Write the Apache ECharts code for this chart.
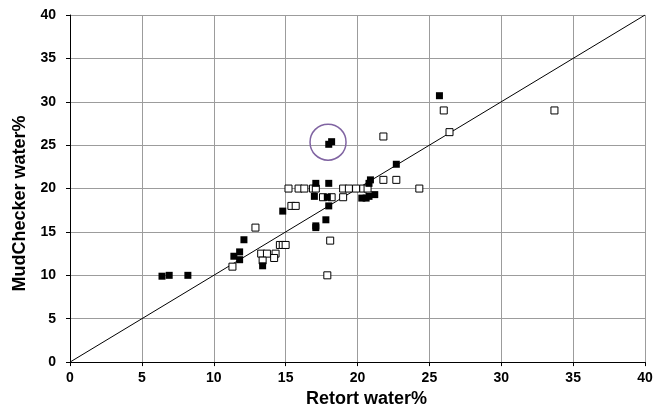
<!DOCTYPE html>
<html>
<head>
<meta charset="utf-8">
<script src="https://cdn.jsdelivr.net/npm/echarts@6/dist/echarts.min.js"></script>
<style>
html,body{margin:0;padding:0;background:#fff;}
#chart{width:665px;height:413px;}
</style>
</head>
<body>
<div id="chart"></div>
<script>
// Axis ticks
var xTicks = [0, 5, 10, 15, 20, 25, 30, 35, 40];
var yTicks = [0, 5, 10, 15, 20, 25, 30, 35, 40];
var xTitle = 'Retort water%';
var yTitle = 'MudChecker water%';

// Filled (black) squares: [retort, mudchecker]
var filledPoints = [
  [6.4, 9.9], [6.9, 10.0], [8.2, 10.0],
  [11.4, 12.2], [11.8, 12.7], [11.8, 11.8], [12.1, 14.1],
  [13.4, 11.1],
  [14.8, 17.4],
  [17.1, 20.6], [18.0, 20.6],
  [17.0, 19.1], [17.9, 19.0],
  [18.0, 18.0],
  [17.8, 16.4],
  [17.1, 15.7], [17.1, 15.5],
  [18.0, 25.1], [18.2, 25.4],
  [20.9, 21.0], [20.8, 20.6],
  [20.3, 18.9], [20.6, 18.9], [20.8, 19.1], [21.2, 19.3],
  [22.7, 22.8],
  [25.7, 30.7]
];

// Open (white) squares
var openPoints = [
  [11.3, 11.0], [12.9, 15.5],
  [13.3, 12.5], [13.7, 12.5], [14.3, 12.5], [14.2, 12.0], [13.4, 11.7],
  [14.6, 13.5], [14.8, 13.5], [15.0, 13.5],
  [15.2, 20.0], [15.9, 20.0], [16.3, 20.0], [16.9, 20.0], [17.1, 20.0],
  [19.0, 20.0], [19.4, 20.0], [19.9, 20.0], [20.4, 20.0], [20.7, 20.0],
  [15.4, 18.0], [15.7, 18.0],
  [17.6, 19.0], [18.2, 19.0], [19.0, 19.0],
  [18.1, 14.0], [17.9, 10.0],
  [21.8, 26.0], [21.8, 21.0], [22.7, 21.0], [24.3, 20.0],
  [26.0, 29.0], [26.4, 26.5], [33.7, 29.0]
];

// 1:1 reference line
var identityLine = [[0, 0], [40, 40]];

// Highlighted (circled) point
var highlight = [[17.95, 25.35]];

var chart = echarts.init(document.getElementById('chart'));
var font = 'Liberation Sans, Arial, sans-serif';
chart.setOption({
  animation: false,
  backgroundColor: '#ffffff',
  grid: {left: 70, right: 20, top: 15, bottom: 49, containLabel: false},
  xAxis: {
    type: 'value', min: xTicks[0], max: xTicks[xTicks.length - 1], interval: 5,
    name: xTitle, nameLocation: 'middle', nameGap: 27,
    nameTextStyle: {fontFamily: font, fontWeight: 'bold', fontSize: 18, color: '#000', padding: [0, 0, 0, 18]},
    axisLine: {show: true, onZero: false, lineStyle: {color: '#000', width: 1}},
    axisTick: {show: true, inside: false, length: 4, lineStyle: {color: '#000'}},
    axisLabel: {fontFamily: font, fontWeight: 'bold', fontSize: 14, color: '#000', margin: 9},
    splitLine: {show: true, lineStyle: {color: '#9c9c9c', width: 1}}
  },
  yAxis: {
    type: 'value', min: yTicks[0], max: yTicks[yTicks.length - 1], interval: 5,
    name: yTitle, nameLocation: 'middle', nameGap: 36, nameRotate: 90,
    nameTextStyle: {fontFamily: font, fontWeight: 'bold', fontSize: 18, color: '#000', padding: [0, 30, 0, 0]},
    axisLine: {show: true, onZero: false, lineStyle: {color: '#000', width: 1}},
    axisTick: {show: true, inside: false, length: 4, lineStyle: {color: '#000'}},
    axisLabel: {fontFamily: font, fontWeight: 'bold', fontSize: 14, color: '#000', margin: 14},
    splitLine: {show: true, lineStyle: {color: '#9c9c9c', width: 1}}
  },
  series: [
    {
      type: 'line', data: identityLine, symbol: 'none',
      lineStyle: {color: '#000', width: 1}, z: 2, silent: true
    },
    {
      type: 'scatter', data: openPoints, symbol: 'rect', symbolSize: 7,
      itemStyle: {color: '#fff', borderColor: '#000', borderWidth: 1, opacity: 1}, z: 3
    },
    {
      type: 'scatter', data: filledPoints, symbol: 'rect', symbolSize: 7,
      itemStyle: {color: '#000', opacity: 1}, z: 4
    },
    {
      type: 'scatter', data: highlight, symbol: 'circle', symbolSize: 36,
      itemStyle: {color: 'rgba(0,0,0,0)', borderColor: '#8064a2', borderWidth: 1.5, opacity: 1}, z: 5
    }
  ]
});
</script>
</body>
</html>
